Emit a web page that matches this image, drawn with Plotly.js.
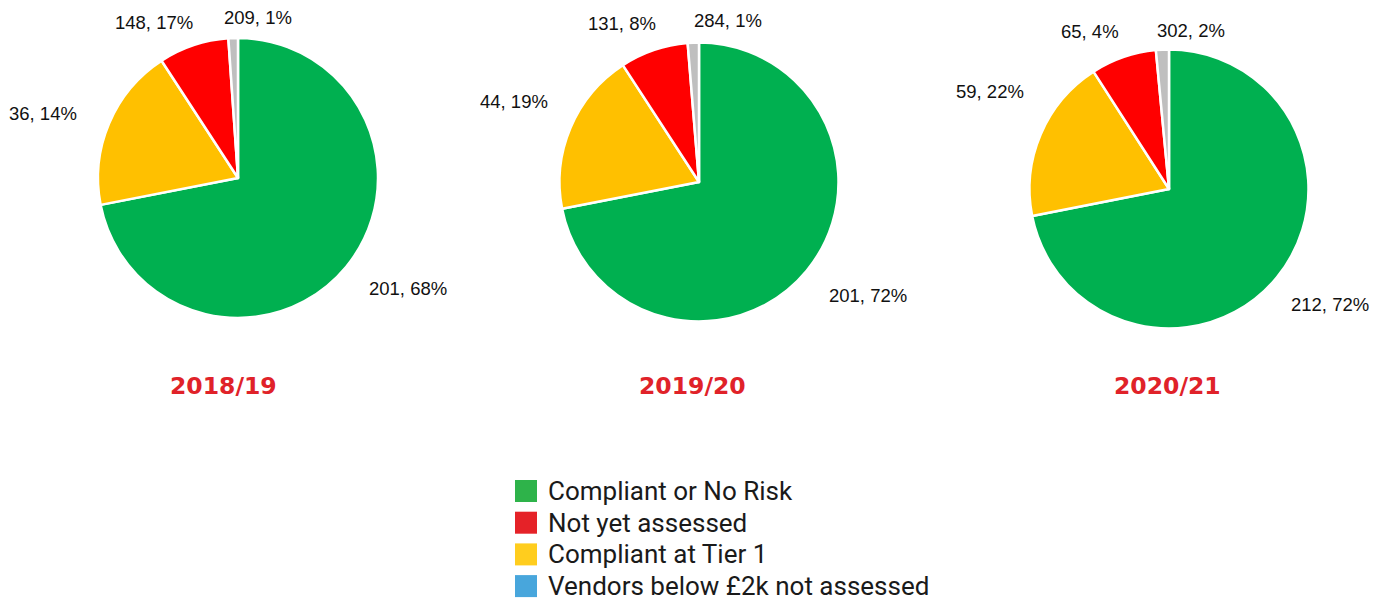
<!DOCTYPE html>
<html>
<head>
<meta charset="utf-8">
<script src="https://cdn.plot.ly/plotly-3.0.1.min.js"></script>
<style>html,body{margin:0;padding:0;background:#fff;}#chart{width:1381px;height:601px;}</style>
</head>
<body>
<div id="chart"></div>
<script>
// ---------- DATA ----------
const sliceCategories = ['Compliant or No Risk', 'Compliant at Tier 1', 'Not yet assessed', 'Vendors below £2k not assessed'];
const years = ['2018/19', '2019/20', '2020/21'];
// slice sizes (percent of circle)
const share2018 = [72.0, 18.9, 8.1, 1.1];
const share2019 = [72.0, 18.9, 7.9, 1.3];
const share2020 = [71.9, 19.0, 7.6, 1.5];
// data labels as printed on the chart
const labels2018 = ['201, 68%', '36, 14%', '148, 17%', '209, 1%'];
const labels2019 = ['201, 72%', '44, 19%', '131, 8%', '284, 1%'];
const labels2020 = ['212, 72%', '59, 22%', '65, 4%', '302, 2%'];
// legend
const legendLabels = ['Compliant or No Risk', 'Not yet assessed', 'Compliant at Tier 1', 'Vendors below £2k not assessed'];

// ---------- STYLE / LAYOUT ----------
const W = 1381, H = 601;
const sliceColors = ['#00b050', '#ffc000', '#ff0000', '#bfbfbf'];
const legendColors = ['#2eb34a', '#e52228', '#ffcd1e', '#48a6dc'];
// pie centres and radii in pixels
const pieGeom = [
  {cx: 238, cy: 178, r: 140},
  {cx: 699, cy: 182, r: 139.5},
  {cx: 1169, cy: 189, r: 139.5}
];
// label offsets from pie centre (px), order matches slices
const labelOffsets = [
  [[170, 110], [-195, -65], [-84, -155], [20, -160]],
  [[169, 113], [-185, -80], [-77, -158], [29, -161]],
  [[161, 115], [-179, -97], [-79, -157], [22, -158]]
];
const titleX = [223, 692, 1167];
const titleY = 386;
const legendGeom = {x: 515, y0: 491, dy: 31.7, box: 22, textX: 546};

const px = x => x / W;
const py = y => 1 - y / H;

const shares = [share2018, share2019, share2020];
const labelSets = [labels2018, labels2019, labels2020];

const traces = shares.map((vals, i) => {
  const g = pieGeom[i];
  return {
    type: 'pie',
    labels: sliceCategories,
    values: vals,
    sort: false,
    direction: 'clockwise',
    rotation: 0,
    textinfo: 'none',
    hoverinfo: 'label+percent',
    showlegend: false,
    marker: {colors: sliceColors, line: {color: '#ffffff', width: 2.5}},
    domain: {x: [px(g.cx - g.r), px(g.cx + g.r)], y: [py(g.cy + g.r), py(g.cy - g.r)]}
  };
});

const annotations = [];
const shapes = [];
labelSets.forEach((labs, i) => {
  const g = pieGeom[i];
  labs.forEach((t, k) => {
    annotations.push({
      text: t, showarrow: false, xref: 'paper', yref: 'paper',
      x: px(g.cx + labelOffsets[i][k][0]), y: py(g.cy + labelOffsets[i][k][1]),
      xanchor: 'center', yanchor: 'middle',
      font: {family: 'Liberation Sans, Arial, sans-serif', size: 18.5, color: '#111111'}
    });
  });
});
years.forEach((yr, i) => {
  annotations.push({
    text: '<b>' + yr + '</b>', showarrow: false, xref: 'paper', yref: 'paper',
    x: px(titleX[i]), y: py(titleY), xanchor: 'center', yanchor: 'middle',
    font: {family: 'DejaVu Sans, sans-serif', size: 23.5, color: '#e02229'}
  });
});
legendLabels.forEach((lab, k) => {
  const cy = legendGeom.y0 + k * legendGeom.dy;
  shapes.push({
    type: 'rect', xref: 'paper', yref: 'paper', line: {width: 0},
    fillcolor: legendColors[k],
    x0: px(legendGeom.x), x1: px(legendGeom.x + legendGeom.box),
    y0: py(cy + legendGeom.box / 2), y1: py(cy - legendGeom.box / 2)
  });
  annotations.push({
    text: lab, showarrow: false, xref: 'paper', yref: 'paper',
    x: px(legendGeom.textX), y: py(cy), xanchor: 'left', yanchor: 'middle',
    font: {family: 'Roboto, sans-serif', size: 26, color: '#1a1a1a'}
  });
});

const layout = {
  width: W, height: H,
  margin: {l: 0, r: 0, t: 0, b: 0},
  paper_bgcolor: '#ffffff', plot_bgcolor: '#ffffff',
  showlegend: false,
  annotations: annotations,
  shapes: shapes
};

Plotly.newPlot('chart', traces, layout, {displayModeBar: false, staticPlot: true});
</script>
</body>
</html>
